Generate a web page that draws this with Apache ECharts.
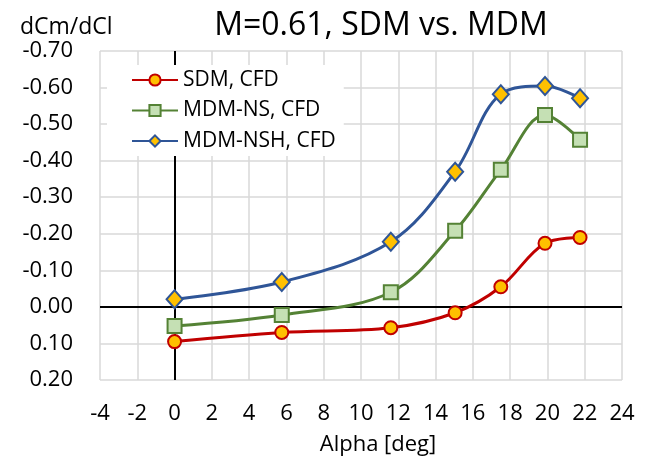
<!DOCTYPE html>
<html>
<head>
<meta charset="utf-8">
<title>M=0.61, SDM vs. MDM</title>
<script src="https://cdn.jsdelivr.net/npm/echarts@6/dist/echarts.min.js"></script>
<style>
  html, body { margin: 0; padding: 0; background: #fff; }
  #main { width: 646px; height: 462px; }
</style>
</head>
<body>
<div id="main"></div>
<script type="text/javascript">
    // angles of attack (deg)
    const alpha = [0, 5.75, 11.6, 15.05, 17.5, 19.87, 21.75];
    // dCm/dCl per method
    const sdm = [0.095, 0.070, 0.057, 0.016, -0.055, -0.174, -0.190];
    const mdmNs = [0.052, 0.022, -0.040, -0.208, -0.375, -0.525, -0.457];
    const mdmNsh = [-0.021, -0.068, -0.178, -0.370, -0.582, -0.604, -0.571];
    const seriesNames = ['SDM, CFD', 'MDM-NS, CFD', 'MDM-NSH, CFD'];

    const FONT = 'Open Sans';

    function pairs(ys) {
        return alpha.map(function (x, i) { return [x, ys[i]]; });
    }

    const myChart = echarts.init(document.getElementById('main'));
    const option = {
        animation: false,
        textStyle: {fontFamily: FONT},
        title: [
            {
                text: 'M=0.61, SDM vs. MDM',
                left: 376, top: 5, textAlign: 'center',
                textStyle: {fontFamily: FONT, fontSize: 32, fontWeight: 'normal', color: '#000'}
            },
            {
                text: 'dCm/dCl',
                left: 15, top: 11,
                textStyle: {fontFamily: FONT, fontSize: 23, fontWeight: 'normal', color: '#000'}
            }
        ],
        legend: {
            orient: 'vertical',
            left: 107, top: 65,
            itemWidth: 46, itemHeight: 14, itemGap: 8.5,
            padding: [4, 8, 4, 24],
            backgroundColor: '#fff',
            textStyle: {fontFamily: FONT, fontSize: 21, lineHeight: 22, color: '#000'},
            data: seriesNames
        },
        grid: {left: 100, right: 24, top: 51, bottom: 82},
        xAxis: {
            type: 'value',
            min: -4, max: 24, interval: 2,
            name: 'Alpha [deg]',
            nameLocation: 'middle', nameGap: 54,
            nameTextStyle: {fontFamily: FONT, fontSize: 22, color: '#000', padding: [0, 0, 0, 34]},
            axisLine: {show: false},
            axisTick: {show: false},
            axisLabel: {fontFamily: FONT, fontSize: 22, color: '#000', margin: 23},
            splitLine: {show: true, lineStyle: {color: '#d9d9d9', width: 1.5}}
        },
        yAxis: {
            type: 'value',
            inverse: true,
            min: -0.7, max: 0.2, interval: 0.1,
            axisLine: {show: false},
            axisTick: {show: false},
            axisLabel: {
                fontFamily: FONT, fontSize: 22, color: '#000', margin: 27,
                formatter: function (v) { return (Math.abs(v) < 1e-9 ? 0 : v).toFixed(2); }
            },
            splitLine: {show: true, lineStyle: {color: '#d9d9d9', width: 1.5}}
        },
        series: [
            {
                name: seriesNames[0],
                type: 'line',
                smooth: 0.35,
                data: pairs(sdm),
                symbol: 'circle', symbolSize: 13,
                lineStyle: {color: '#c00000', width: 3},
                itemStyle: {color: '#ffc000', borderColor: '#c00000', borderWidth: 2},
                z: 3,
                markLine: {
                    silent: true,
                    symbol: 'none',
                    label: {show: false},
                    lineStyle: {color: '#000', width: 2, type: 'solid'},
                    data: [{xAxis: 0}, {yAxis: 0}],
                    z: 1
                }
            },
            {
                name: seriesNames[1],
                type: 'line',
                smooth: 0.35,
                data: pairs(mdmNs),
                symbol: 'rect', symbolSize: 14,
                lineStyle: {color: '#548235', width: 3},
                itemStyle: {color: '#c5e0b4', borderColor: '#548235', borderWidth: 2},
                z: 4
            },
            {
                name: seriesNames[2],
                type: 'line',
                smooth: 0.35,
                data: pairs(mdmNsh),
                symbol: 'diamond', symbolSize: [16, 18],
                lineStyle: {color: '#2f5597', width: 3},
                itemStyle: {color: '#ffc000', borderColor: '#2f5597', borderWidth: 2},
                z: 5
            }
        ]
    };
    myChart.setOption(option);
</script>
</body>
</html>
